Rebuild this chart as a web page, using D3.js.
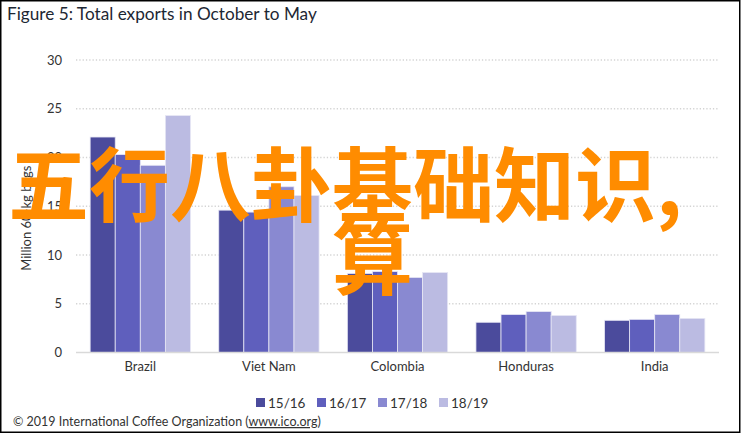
<!DOCTYPE html>
<html>
<head>
<meta charset="utf-8">
<script src="https://cdn.jsdelivr.net/npm/d3@7"></script>
<style>
  body { margin: 0; background: #fff; }
  text { font-family: Lato, "Open Sans", sans-serif; }
</style>
</head>
<body>
<script>
// data (million 60-kg bags)
const countries = ["Brazil", "Viet Nam", "Colombia", "Honduras", "India"];
const seasons = ["15/16", "16/17", "17/18", "18/19"];
const values = {
  "15/16": [22.1, 14.6, 8.1, 3.1, 3.3],
  "16/17": [20.3, 14.4, 8.3, 3.9, 3.4],
  "17/18": [19.2, 17.0, 7.7, 4.2, 3.9],
  "18/19": [24.3, 16.1, 8.2, 3.8, 3.5]
};
const yTicks = [0, 5, 10, 15, 20, 25, 30];
const colors = ["#4b4b9c", "#5f5fbd", "#8989d1", "#bbbbe2"];

const width = 742, height = 434;
const plot = { left: 76, right: 719, top: 60, bottom: 352.5 };

const svg = d3.select("body").append("svg")
    .attr("width", width)
    .attr("height", height);

// frame
svg.append("rect")
    .attr("x", 0.75).attr("y", 0.75)
    .attr("width", 739).attr("height", 431.5)
    .attr("fill", "none")
    .attr("stroke", "#000")
    .attr("stroke-width", 1.5);

svg.append("text")
    .attr("x", 7).attr("y", 20)
    .style("font-size", "17.2px")
    .style("fill", "#1d2733")
    .text("Figure 5: Total exports in October to May");

const x0 = d3.scaleBand()
    .domain(countries)
    .range([plot.left, plot.right])
    .paddingInner(0.22)
    .paddingOuter(0.11);

const x1 = d3.scaleBand()
    .domain(seasons)
    .range([0, x0.bandwidth()]);

const y = d3.scaleLinear()
    .domain([0, 30])
    .range([plot.bottom, plot.top]);

// gridlines
svg.append("g")
  .selectAll("line")
  .data(yTicks.filter(d => d > 0))
  .join("line")
    .attr("x1", plot.left).attr("x2", plot.right)
    .attr("y1", d => y(d)).attr("y2", d => y(d))
    .attr("stroke", "#d4d4d4")
    .attr("stroke-width", 1.3)
    .attr("stroke-dasharray", "1.3,2");

// y axis labels
const yAxis = svg.append("g")
    .attr("transform", `translate(${plot.left - 14},0)`)
    .call(d3.axisLeft(y).tickValues(yTicks).tickSize(0).tickPadding(0));
yAxis.select(".domain").remove();
yAxis.selectAll("text")
    .style("font-family", "Lato, 'Open Sans', sans-serif")
    .style("font-size", "13px")
    .style("fill", "#333");

svg.append("text")
    .attr("transform", `translate(31,${(plot.top + plot.bottom) / 2 + 12}) rotate(-90)`)
    .attr("text-anchor", "middle")
    .style("font-size", "13px")
    .style("fill", "#333")
    .text("Million 60-kg bags");

// bars
const groups = svg.append("g")
  .selectAll("g")
  .data(countries)
  .join("g")
    .attr("transform", d => `translate(${x0(d)},0)`);

groups.selectAll("rect")
  .data((c, i) => seasons.map((s, j) => ({ season: s, value: values[s][i], color: colors[j] })))
  .join("rect")
    .attr("x", d => x1(d.season))
    .attr("y", d => y(d.value))
    .attr("width", x1.bandwidth())
    .attr("height", d => y(0) - y(d.value))
    .attr("fill", d => d.color)
    .attr("stroke", "#e6e6f4")
    .attr("stroke-width", 0.8);

// baseline
svg.append("line")
    .attr("x1", plot.left).attr("x2", plot.right)
    .attr("y1", y(0)).attr("y2", y(0))
    .attr("stroke", "#d9d9d9")
    .attr("stroke-width", 1.5);

// x axis labels
const xAxis = svg.append("g")
    .attr("transform", `translate(0,${y(0) + 9})`)
    .call(d3.axisBottom(x0).tickSize(0).tickPadding(0));
xAxis.select(".domain").remove();
xAxis.selectAll("text")
    .style("font-family", "Lato, 'Open Sans', sans-serif")
    .style("font-size", "13px")
    .style("fill", "#333");

// legend
const legendX = [256, 317, 378, 439];
const legend = svg.append("g")
  .selectAll("g")
  .data(seasons)
  .join("g")
    .attr("transform", (d, i) => `translate(${legendX[i]},398)`);
legend.append("rect")
    .attr("width", 9).attr("height", 9)
    .attr("fill", (d, i) => colors[i]);
legend.append("text")
    .attr("x", 12).attr("y", 9.5)
    .style("font-size", "13.5px")
    .style("fill", "#333")
    .text(d => d);

// footer
const footer = svg.append("text")
    .attr("x", 13).attr("y", 426)
    .style("font-size", "12.5px")
    .style("fill", "#333");
footer.append("tspan").text("© 2019 International Coffee Organization (");
footer.append("tspan").style("text-decoration", "underline").text("www.ico.org");
footer.append("tspan").text(")");

// overlaid orange text
svg.append("text")
    .attr("x", 8).attr("y", 215)
    .style("font-family", "'Noto Sans CJK SC', sans-serif")
    .style("font-size", "81px")
    .style("font-weight", 700)
    .style("fill", "#ff8c00")
    .text("五行八卦基础知识,");
svg.append("text")
    .attr("x", 332).attr("y", 288)
    .style("font-family", "'Noto Sans CJK SC', sans-serif")
    .style("font-size", "81px")
    .style("font-weight", 700)
    .style("fill", "#ff8c00")
    .text("算");
</script>
</body>
</html>
